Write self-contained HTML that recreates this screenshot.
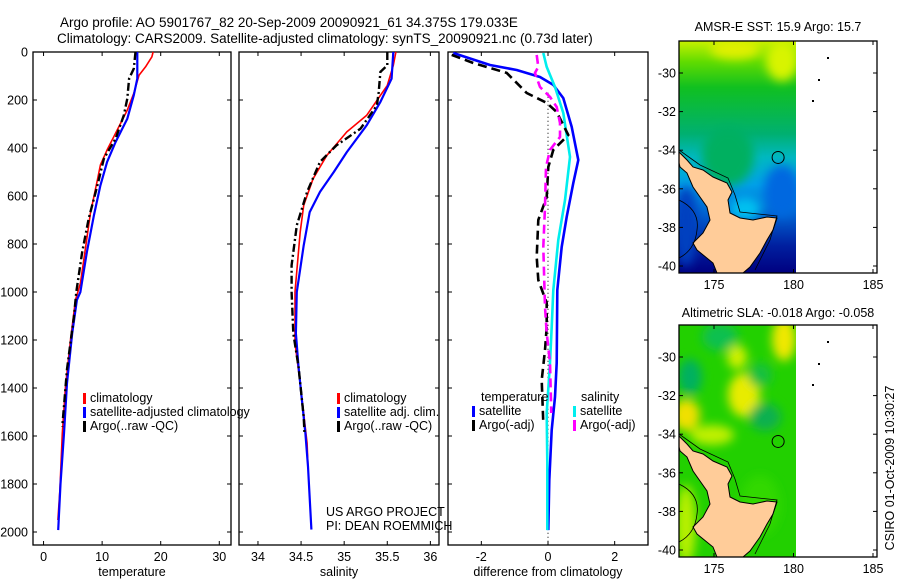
<!DOCTYPE html>
<html><head><meta charset="utf-8"><style>
html,body{margin:0;padding:0;background:#fff}
svg{display:block;font-family:"Liberation Sans",sans-serif}
</style></head><body>
<svg id="chart" width="900" height="580" viewBox="0 0 900 580" xmlns="http://www.w3.org/2000/svg">
<defs>
<filter id="bl" x="-50%" y="-50%" width="200%" height="200%"><feGaussianBlur stdDeviation="5"/></filter>
<clipPath id="c1"><rect x="679" y="41" width="117" height="232"/></clipPath>
<clipPath id="c2"><rect x="679" y="325" width="117" height="232"/></clipPath>
<linearGradient id="sst" x1="0" y1="0" x2="0" y2="1">
<stop offset="0" stop-color="#c8f000"/><stop offset="0.09" stop-color="#60dc00"/><stop offset="0.2" stop-color="#10c020"/>
<stop offset="0.4" stop-color="#00b070"/><stop offset="0.5" stop-color="#00b8c0"/><stop offset="0.62" stop-color="#00a0e8"/>
<stop offset="0.75" stop-color="#0060d0"/><stop offset="0.88" stop-color="#0020a0"/><stop offset="1" stop-color="#000080"/>
</linearGradient>
</defs>
<g id="titles">
<text x="60" y="27" font-size="13.5">Argo profile: AO 5901767_82 20-Sep-2009 20090921_61 34.375S 179.033E</text>
<text x="57" y="43" font-size="13.5">Climatology: CARS2009. Satellite-adjusted climatology: synTS_20090921.nc (0.73d later)</text>
<text x="778" y="31" font-size="12.5" text-anchor="middle">AMSR-E SST: 15.9 Argo: 15.7</text>
<text x="778" y="317" font-size="12.5" text-anchor="middle">Altimetric SLA: -0.018 Argo: -0.058</text>
<text transform="translate(894,468) rotate(-90)" font-size="12.5" text-anchor="middle">CSIRO 01-Oct-2009 10:30:27</text>
</g>
<g id="maps"></g>
<g id="panels"></g>
</svg>
<script>
// ---- data arrays ----
const depthTicks=[0,200,400,600,800,1000,1200,1400,1600,1800,2000];
const tempTicks=[0,10,20,30];
const salTicks=[34,34.5,35,35.5,36];
const salTickLabels=["34","34.5","35","35.5","36"];
const diffTicks=[-2,0,2];
const latTicks=[-30,-32,-34,-36,-38,-40];
const lonTicks=[175,180,185];

const tClimD=[0,20,62,97,172,242,353,408,471,533,672,811,964,1033,1200,1394,1589,1825,1950];
const tClimV=[18.7,18.5,17.4,16.3,15.4,14.3,12.0,10.85,9.7,9.2,8.0,7.2,6.3,5.45,4.6,3.75,3.2,2.8,2.45];
const tSatD=[0,111,180,278,375,458,556,681,833,1000,1033,1172,1380,1589,1800,1992];
const tSatV=[16.0,16.0,15.4,14.3,12.3,10.85,9.7,8.6,7.4,6.3,5.7,4.9,4.0,3.5,2.9,2.5];
const tArgoD=[0,69,111,194,264,361,444,556,694,833,1000,1100,1322,1561];
const tArgoV=[15.7,15.4,14.6,14.3,13.7,12.3,10.3,9.2,7.7,6.6,5.6,5.2,4.0,3.2];

const sClimD=[0,56,139,264,333,431,528,639,750,1000,1213,1380,1630,1727];
const sClimV=[35.60,35.57,35.50,35.26,35.03,34.80,34.64,34.53,34.49,34.43,34.43,34.49,34.57,34.58];
const sSatD=[0,111,208,306,417,500,583,667,806,1000,1172,1311,1450,1589,1727,1990];
const sSatV=[35.57,35.55,35.42,35.26,35.03,34.88,34.72,34.60,34.53,34.45,34.44,34.47,34.51,34.55,34.58,34.62];
const sArgoD=[0,56,83,167,222,319,389,458,583,722,889,1000,1172,1311,1520,1589];
const sArgoV=[35.50,35.50,35.42,35.40,35.38,35.19,34.91,34.72,34.57,34.45,34.39,34.39,34.41,34.47,34.53,34.54];

const dTSatD=[4,54,75,104,137,192,312,450,546,687,812,992,1296,1437,1575,1783,1992];
const dTSatV=[-2.84,-1.74,-0.94,-0.24,0.16,0.46,0.71,0.91,0.76,0.56,0.41,0.28,0.26,0.21,0.11,0.04,0.01];
const dSSatD=[4,62,146,254,437,617,783,992,1146,1296,1504,1712,1992];
const dSSatV=[-0.14,-0.04,0.21,0.46,0.66,0.51,0.31,0.16,0.11,0.06,-0.04,-0.02,-0.02];
const dTArgoD=[12,46,87,171,212,250,346,408,479,604,700,854,950,1046,1146,1242,1367,1546];
const dTArgoV=[-2.89,-2.24,-1.24,-0.64,-0.04,0.26,0.61,0.16,0.01,-0.04,-0.29,-0.34,-0.29,-0.04,-0.04,-0.09,-0.19,-0.14];
const dSArgoD=[12,62,87,146,187,229,296,354,408,479,646,812,1062,1171,1296,1504];
const dSArgoV=[-0.34,-0.29,-0.39,-0.24,0.06,0.26,0.36,0.36,0.06,-0.06,-0.09,-0.14,-0.09,-0.04,0.06,0.1];

const argoLon=179.033, argoLat=-34.375;

const NS="http://www.w3.org/2000/svg";
function mk(tag,attrs,parent){const e=document.createElementNS(NS,tag);for(const k in attrs)e.setAttribute(k,attrs[k]);parent.appendChild(e);return e;}
const panels=document.getElementById('panels');
const yD=d=>52+d*0.24;
const P=[
 {x0:33,x1:231,v0:-1.8,v1:32,ticks:tempTicks,labels:tempTicks.map(String),xlabel:"temperature",name:"temperature-panel"},
 {x0:239,x1:439,v0:33.78,v1:36.1,ticks:salTicks,labels:salTickLabels,xlabel:"salinity",name:"salinity-panel"},
 {x0:448,x1:648,v0:-3,v1:3,ticks:diffTicks,labels:diffTicks.map(String),xlabel:"difference from climatology",name:"difference-panel"}
];
P.forEach((p,i)=>{
 p.sx=v=>p.x0+(v-p.v0)/(p.v1-p.v0)*(p.x1-p.x0);
 const g=mk('g',{},panels);
 
 
 const r=mk('rect',{x:p.x0,y:52,width:p.x1-p.x0,height:493,fill:'none',stroke:'#000','stroke-width':1.3},g);
 
 
 p.ticks.forEach((t,j)=>{
  const x=p.sx(t);
  mk('line',{x1:x,y1:52,x2:x,y2:56,stroke:'#000'},g);
  mk('line',{x1:x,y1:545,x2:x,y2:541,stroke:'#000'},g);
  const tl=mk('text',{x:x,y:561,'font-size':12.5,'text-anchor':'middle'},g);
  tl.textContent=p.labels[j];
  
  
 });
 depthTicks.forEach(d=>{
  const y=yD(d);
  mk('line',{x1:p.x0,y1:y,x2:p.x0+4,y2:y,stroke:'#000'},g);
  mk('line',{x1:p.x1,y1:y,x2:p.x1-4,y2:y,stroke:'#000'},g);
  if(i===0){const tl=mk('text',{x:28,y:y+4.5,'font-size':12.5,'text-anchor':'end'},g);tl.textContent=String(d);
   
   }
 });
 const xl=mk('text',{x:(p.x0+p.x1)/2,y:576,'font-size':12.5,'text-anchor':'middle'},g);
 xl.textContent=p.xlabel;
 
 
});
function line(p,D,V,color,w,dash,name){
 const pts=D.map((d,k)=>p.sx(V[k]).toFixed(1)+','+yD(d).toFixed(1)).join(' ');
 const a={points:pts,fill:'none',stroke:color,'stroke-width':w,'stroke-linejoin':'round'};
 if(dash)a['stroke-dasharray']=dash;
 const e=mk('polyline',a,panels);
 
 
}
const zl=mk('line',{x1:P[2].sx(0),y1:yD(170),x2:P[2].sx(0),y2:545,stroke:'#000','stroke-width':1,'stroke-dasharray':'1,3'},panels);


line(P[0],tClimD,tClimV,'#ff0000',1.6,null,'temp-climatology-line');
line(P[0],tSatD,tSatV,'#0000ff',2.2,null,'temp-satellite-line');
line(P[0],tArgoD,tArgoV,'#000',2.4,'8,3,2,3','temp-argo-line');
line(P[1],sClimD,sClimV,'#ff0000',1.6,null,'sal-climatology-line');
line(P[1],sSatD,sSatV,'#0000ff',2.2,null,'sal-satellite-line');
line(P[1],sArgoD,sArgoV,'#000',2.4,'8,3,2,3','sal-argo-line');
line(P[2],dTSatD,dTSatV,'#0000ff',2.6,null,'diff-temp-satellite-line');
line(P[2],dSSatD,dSSatV,'#00eeee',2.6,null,'diff-sal-satellite-line');
line(P[2],dTArgoD,dTArgoV,'#000',2.6,'9,5','diff-temp-argo-line');
line(P[2],dSArgoD,dSArgoV,'#ff00ff',2.6,'9,5','diff-sal-argo-line');
function leg(x,y,color,txt,name){
 if(color){const b=mk('rect',{x:x,y:y-9,width:3,height:11,fill:color},panels);
  
  }
 const t=mk('text',{x:x+7,y:y,'font-size':12.5},panels);t.textContent=txt;
 
 
}
leg(83,402,'#ff0000','climatology','legend-climatology');
leg(83,416,'#0000ff','satellite-adjusted climatology','legend-satellite-adjusted');
leg(83,430,'#000','Argo(..raw -QC)','legend-argo');
leg(337,402,'#ff0000','climatology','legend-sal-climatology');
leg(337,416,'#0000ff','satellite adj. clim.','legend-sal-satellite');
leg(337,430,'#000','Argo(..raw -QC)','legend-sal-argo');
leg(474,401,null,'temperature','legend-temperature-heading');
leg(472,415,'#0000ff','satellite','legend-temp-satellite');
leg(472,429,'#000','Argo(-adj)','legend-temp-argo');
leg(574,401,null,'salinity','legend-salinity-heading');
leg(573,415,'#00eeee','satellite','legend-sal-satellite-diff');
leg(573,429,'#ff00ff','Argo(-adj)','legend-sal-argo-diff');
const us=mk('text',{x:326,y:516,'font-size':12.5},panels);us.textContent='US ARGO PROJECT';


const pi=mk('text',{x:326,y:530,'font-size':12.5},panels);pi.textContent='PI: DEAN ROEMMICH';



// ---- maps ----
const maps=document.getElementById('maps');
const land=[[679,152],[687,160],[693,167],[703,170],[713,177],[727,183],[732,192],[728,200],[730,213],[740,218],[753,220],[767,217],[777,218],[773,230],[767,240],[760,253],[750,267],[743,273],[717,273],[713,263],[697,250],[693,243],[703,233],[710,220],[707,207],[700,197],[693,187],[687,173],[680,167],[679,163]];
function map(top,kind){
 const off=top-41;
 const g=mk('g',{},maps);
 
 
 const lx=v=>714+(v-175)*15.9, ly=v=>top+32+(-30-v)*19.3;
 const cg=mk('g',{'clip-path':'url(#'+(kind==='sst'?'c1':'c2')+')'},g);
 if(kind==='sst'){
  mk('rect',{x:679,y:top,width:117,height:232,fill:'url(#sst)'},cg);
  const bg=mk('g',{filter:'url(#bl)'},cg);
  mk('ellipse',{cx:782,cy:top+20,rx:16,ry:20,fill:'#d8f400'},bg);
  mk('ellipse',{cx:735,cy:top+8,rx:25,ry:10,fill:'#e0f000'},bg);
  mk('ellipse',{cx:728,cy:top+115,rx:26,ry:30,fill:'#00b060'},bg);
  mk('ellipse',{cx:782,cy:top+150,rx:18,ry:26,fill:'#0068e0'},bg);
  mk('ellipse',{cx:686,cy:top+185,rx:12,ry:40,fill:'#0040c0'},bg);
  mk('ellipse',{cx:745,cy:top+168,rx:16,ry:12,fill:'#00c0f0'},bg);
 } else {
  mk('rect',{x:679,y:top,width:117,height:232,fill:'#22d000'},cg);
  const bg=mk('g',{filter:'url(#bl)'},cg);
  [[784,top+14,12,22,'#f0e800'],[737,top+32,10,12,'#d0f000'],[744,top+70,16,22,'#e8ec00'],[686,top+90,14,16,'#f0e000'],[712,top+110,22,10,'#c0f000'],
   [690,top+52,12,18,'#00b060'],[765,top+92,16,14,'#10b050'],[720,top+12,18,14,'#10c050'],[760,top+50,12,12,'#18c040'],[686,top+200,10,40,'#b8f000'],[760,top+180,20,30,'#30d800']]
   .forEach(c=>mk('ellipse',{cx:c[0],cy:c[1],rx:c[2],ry:c[3],fill:c[4]},bg));
 }
 const lp=mk('polygon',{points:land.map(p=>p[0]+','+(p[1]+off)).join(' '),fill:'#ffcc99',stroke:'#000','stroke-width':1},cg);
 
 
 mk('path',{d:`M679 ${off+200} Q 700 ${off+210} 697 ${off+230} Q 695 ${off+250} 679 ${off+258}`,fill:'none',stroke:'#000','stroke-width':0.8},cg);
 mk('path',{d:`M679 ${off+150} L700 ${off+165} L728 ${off+178} L735 ${off+195} L740 ${off+212} L777 ${off+216} L770 ${off+240} L755 ${off+270}`,fill:'none',stroke:'#000','stroke-width':0.8},cg);
 const c=mk('circle',{cx:lx(argoLon),cy:ly(argoLat),r:6,fill:'none',stroke:'#000','stroke-width':1},g);
 
 
 [[827,57],[818,79],[812,100]].forEach(p=>mk('rect',{x:p[0],y:p[1]+off,width:2,height:2,fill:'#000'},g));
 const fr=mk('rect',{x:679,y:top,width:198,height:232,fill:'none',stroke:'#000','stroke-width':1.3},g);
 
 
 latTicks.forEach(v=>{const y=ly(v);
  mk('line',{x1:679,y1:y,x2:683,y2:y,stroke:'#000'},g);mk('line',{x1:877,y1:y,x2:873,y2:y,stroke:'#000'},g);
  const t=mk('text',{x:676,y:y+4.5,'font-size':12.5,'text-anchor':'end'},g);t.textContent=String(v);
  
  });
 lonTicks.forEach(v=>{const x=lx(v);
  mk('line',{x1:x,y1:top,x2:x,y2:top+4,stroke:'#000'},g);mk('line',{x1:x,y1:top+232,x2:x,y2:top+228,stroke:'#000'},g);
  const t=mk('text',{x:x,y:top+248,'font-size':12.5,'text-anchor':'middle'},g);t.textContent=String(v);
  
  });
}
map(41,'sst');
map(325,'sla');
</script>
</body></html>
